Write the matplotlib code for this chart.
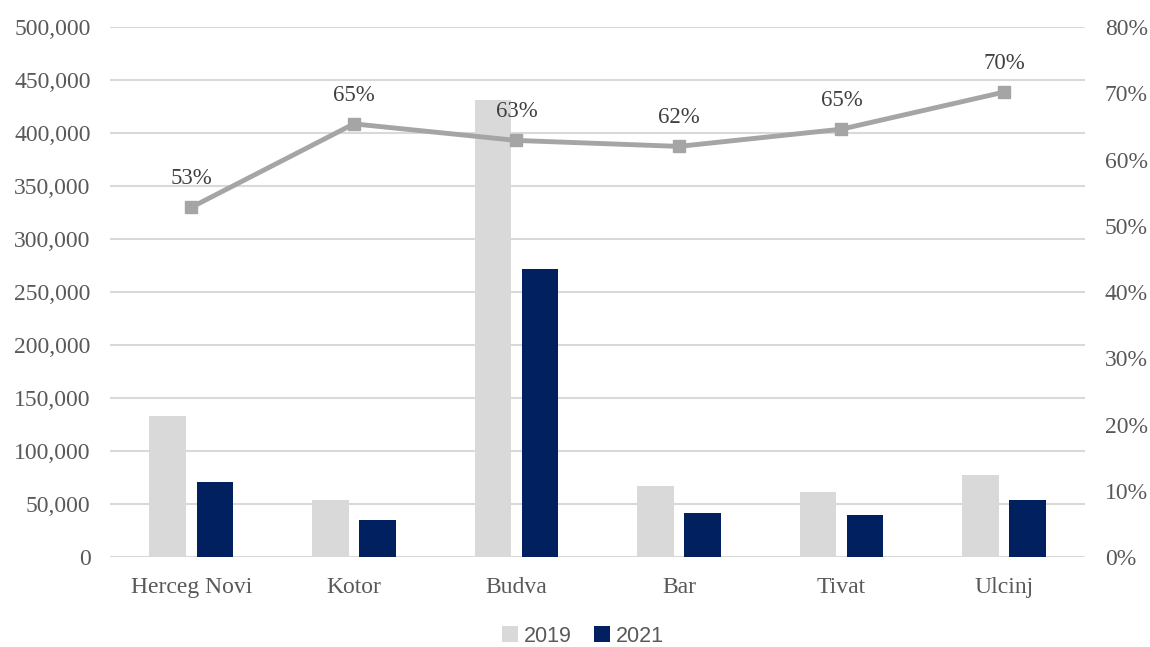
import matplotlib.pyplot as plt
from matplotlib.ticker import FuncFormatter, MultipleLocator
import numpy as np

towns = ["Herceg Novi", "Kotor", "Budva", "Bar", "Tivat", "Ulcinj"]
guests_2019 = [133300, 53500, 431000, 67000, 61300, 77400]
guests_2021 = [70500, 34600, 271700, 41500, 39600, 53800]
share = [0.528, 0.654, 0.629, 0.620, 0.646, 0.702]

TEXT = "#595959"
plt.rcParams["font.family"] = ["Liberation Serif", "DejaVu Serif"]

fig = plt.figure(figsize=(11.5, 6.47), dpi=100)
ax = fig.add_axes([0.0957, 0.139, 0.848, 0.819])
ax2 = ax.twinx()

x = np.arange(len(towns))
w = 0.225
ax.bar(x - 0.145, guests_2019, w, color="#D9D9D9", label="2019", zorder=2)
ax.bar(x + 0.145, guests_2021, w, color="#002060", label="2021", zorder=2)

ax.set_xlim(-0.5, len(towns) - 0.5)
ax.set_ylim(0, 500000)
ax.yaxis.set_major_locator(MultipleLocator(50000))
ax.yaxis.set_major_formatter(FuncFormatter(lambda v, p: f"{v:,.0f}"))
ax.grid(axis="y", color="#D9D9D9", linewidth=1.5, zorder=0)
ax.set_axisbelow(True)
ax.set_xticks(x)
ax.set_xticklabels(towns)

ax2.plot(x, share, color="#A5A5A5", linewidth=3.5, marker="s", markersize=9, zorder=3)
for xi, s in zip(x, share):
    ax2.annotate(f"{s:.0%}", (xi, s), xytext=(0, 13), textcoords="offset points",
                 ha="center", va="bottom", fontsize=16.5, color="#404040")
ax2.set_ylim(0, 0.8)
ax2.yaxis.set_major_locator(MultipleLocator(0.1))
ax2.yaxis.set_major_formatter(FuncFormatter(lambda v, p: f"{v:.0%}"))

for a in (ax, ax2):
    for sp in a.spines.values():
        sp.set_visible(False)
    a.tick_params(length=0, labelsize=17, labelcolor=TEXT)
ax.tick_params(axis="y", pad=14)
ax2.tick_params(axis="y", pad=14)
ax.tick_params(axis="x", pad=14)

fig.legend(loc="center", bbox_to_anchor=(0.507, 0.017), ncol=2, frameon=False,
           prop={"family": "Liberation Sans", "size": 15.5}, labelcolor=TEXT,
           handlelength=0.75, handleheight=0.75, handletextpad=0.3, columnspacing=1.0)

fig.savefig("out.png", dpi=100)
